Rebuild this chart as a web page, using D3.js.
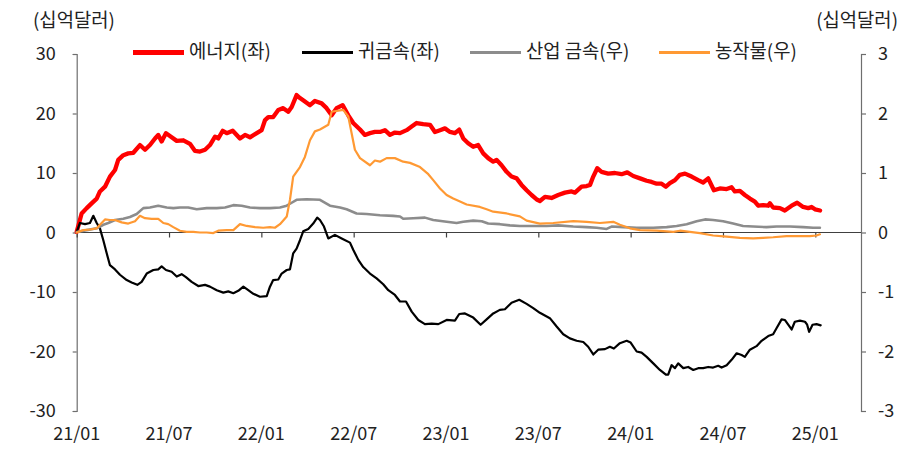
<!DOCTYPE html>
<html>
<head>
<meta charset="utf-8">
<script src="https://cdn.jsdelivr.net/npm/d3@7"></script>
<style>
  html, body { margin: 0; padding: 0; background: #fff; }
  svg text { font-family: "Noto Sans CJK KR", "Noto Sans", sans-serif; fill: #222; }
</style>
</head>
<body>
<svg id="chart" width="915" height="457"></svg>
<script>
// ---- Data (x = months since Jan 2021, value in billion USD) ----
const xTickMonths = [0, 6, 12, 18, 24, 30, 36, 42, 48];
const xTickLabels = ["21/01", "21/07", "22/01", "22/07", "23/01", "23/07", "24/01", "24/07", "25/01"];
const leftTicks = [-30, -20, -10, 0, 10, 20, 30];
const rightTicks = [-3, -2, -1, 0, 1, 2, 3];
const seriesNames = ["에너지(좌)", "귀금속(좌)", "산업 금속(우)", "농작물(우)"];

const energy = [[0,0.1],[0.32,3.2],[0.65,4.1],[0.97,4.9],[1.30,5.7],[1.51,6.9],[1.84,7.7],[2.16,9.4],[2.49,10.5],[2.70,12.2],
[3.03,13.0],[3.35,13.3],[3.68,13.4],[4.11,14.7],[4.44,13.9],[4.76,14.7],[5.09,15.8],[5.30,16.4],[5.52,15.3],[5.80,16.7],
[6.17,16.0],[6.50,15.4],[6.93,15.5],[7.36,14.9],[7.69,13.7],[8.01,13.6],[8.34,13.9],[8.66,14.7],[8.99,16.1],[9.20,15.8],
[9.49,17.1],[9.75,16.7],[10.14,17.1],[10.61,15.8],[10.94,16.4],[11.26,16.0],[11.70,16.7],[12.02,17.2],[12.24,18.9],[12.45,19.4],
[12.77,19.4],[13.10,20.6],[13.42,20.9],[13.75,20.3],[13.97,21.1],[14.29,23.1],[14.51,22.6],[14.83,22.0],[15.16,21.4],[15.48,22.1],
[15.92,21.7],[16.24,20.9],[16.57,19.7],[16.89,20.9],[17.28,21.4],[17.65,19.7],[17.97,18.4],[18.41,17.3],[18.73,16.4],[19.06,16.7],
[19.38,16.9],[19.71,16.9],[20.03,17.2],[20.36,16.4],[20.68,16.8],[21.01,16.7],[21.44,17.2],[21.77,17.8],[22.09,18.4],[22.52,18.2],
[22.96,18.1],[23.28,16.9],[23.61,17.2],[23.93,17.5],[24.26,16.9],[24.58,16.7],[24.86,17.3],[25.12,15.8],[25.44,15.0],[25.77,14.4],
[26.09,14.7],[26.42,13.3],[26.74,12.5],[27.07,11.9],[27.29,12.2],[27.61,11.3],[27.94,10.2],[28.26,9.4],[28.59,9.1],[28.91,8.0],
[29.24,7.1],[29.56,6.3],[29.93,5.5],[30.10,5.3],[30.43,6.0],[30.86,5.8],[31.29,6.3],[31.73,6.7],[32.16,6.9],[32.38,6.7],
[32.81,7.7],[33.14,7.8],[33.36,8.0],[33.57,9.4],[33.83,10.8],[34.11,10.2],[34.54,9.9],[34.98,10.0],[35.41,9.8],[35.78,10.1],
[36.17,9.5],[36.61,9.1],[37.04,8.7],[37.36,8.5],[37.69,8.2],[38.01,8.2],[38.29,7.7],[38.55,8.3],[38.88,8.8],[39.20,9.7],
[39.53,9.9],[39.96,9.4],[40.39,8.8],[40.71,8.4],[41.04,9.1],[41.41,7.1],[41.80,7.4],[42.24,7.3],[42.56,7.6],[42.77,6.9],
[43.10,7.0],[43.42,6.3],[43.75,5.7],[44.07,5.2],[44.29,4.5],[44.61,4.6],[44.94,4.5],[45.05,4.9],[45.26,4.2],[45.70,4.1],
[46.02,3.7],[46.46,4.5],[46.82,5.0],[47.21,4.3],[47.54,4.1],[47.76,4.3],[47.98,3.9],[48.31,3.7]];

const precious = [[0,0.1],[0.21,1.6],[0.54,1.4],[0.86,1.6],[1.08,2.8],[1.30,1.6],[1.51,0.7],[1.73,-1.3],[1.95,-3.5],[2.16,-5.5],
[2.49,-6.2],[2.81,-7.1],[3.25,-8.0],[3.57,-8.4],[3.94,-8.8],[4.22,-8.3],[4.55,-6.9],[4.98,-6.3],[5.30,-6.2],[5.52,-5.7],
[5.80,-6.3],[6.17,-6.6],[6.50,-7.4],[6.82,-7.0],[7.10,-7.5],[7.47,-8.3],[7.90,-9.0],[8.34,-8.8],[8.66,-9.1],[9.10,-9.7],
[9.53,-10.1],[9.85,-9.9],[10.18,-10.2],[10.50,-9.8],[10.83,-9.1],[11.15,-9.7],[11.48,-10.3],[11.91,-10.8],[12.35,-10.7],[12.56,-9.1],
[12.77,-8.0],[13.10,-7.9],[13.32,-6.9],[13.65,-6.3],[13.86,-6.2],[14.07,-3.5],[14.29,-2.7],[14.51,-1.3],[14.72,0.2],[15.05,0.6],
[15.37,1.5],[15.63,2.5],[15.81,2.1],[16.07,1.0],[16.35,-1.0],[16.78,-0.4],[17.22,-1.0],[17.76,-1.7],[17.97,-2.9],[18.30,-4.6],
[18.62,-5.8],[19.06,-6.9],[19.49,-7.7],[19.92,-8.7],[20.25,-9.7],[20.68,-10.5],[21.01,-11.6],[21.40,-11.6],[21.77,-13.3],[22.20,-14.7],
[22.63,-15.4],[23.07,-15.3],[23.50,-15.4],[24.04,-14.7],[24.58,-14.8],[24.86,-13.7],[25.23,-13.6],[25.77,-14.3],[26.25,-15.5],[26.64,-14.6],
[27.07,-13.6],[27.50,-13.0],[27.83,-12.9],[28.26,-11.8],[28.76,-11.3],[29.24,-12.0],[29.67,-12.7],[30.10,-13.5],[30.75,-14.4],[31.19,-15.8],
[31.62,-17.1],[32.05,-17.8],[32.49,-18.2],[32.92,-18.4],[33.24,-19.2],[33.57,-20.5],[33.89,-19.7],[34.33,-19.6],[34.65,-19.2],[34.91,-19.5],
[35.30,-18.6],[35.74,-18.2],[36.00,-18.5],[36.39,-20.0],[36.71,-20.2],[37.04,-20.9],[37.47,-22.0],[37.90,-23.1],[38.29,-23.9],[38.44,-23.9],
[38.66,-22.3],[38.88,-22.8],[39.09,-22.0],[39.42,-22.8],[39.74,-22.6],[40.07,-23.1],[40.39,-22.8],[40.71,-22.8],[41.04,-22.6],[41.36,-22.7],
[41.69,-22.4],[41.91,-22.7],[42.24,-22.3],[42.56,-21.4],[42.89,-20.3],[43.21,-20.6],[43.42,-20.9],[43.75,-19.7],[44.18,-19.1],[44.51,-18.2],
[44.94,-17.4],[45.26,-17.1],[45.48,-16.1],[45.81,-14.6],[46.02,-14.7],[46.24,-15.5],[46.46,-16.3],[46.67,-15.0],[47.00,-14.8],[47.33,-15.0],
[47.47,-15.5],[47.60,-16.7],[47.82,-15.5],[48.08,-15.4],[48.35,-15.6]];

const industrial = [[0,0.01],[0.65,0.04],[1.30,0.07],[1.73,0.13],[2.05,0.16],[2.49,0.21],[3.03,0.23],[3.46,0.26],[3.90,0.31],[4.33,0.41],
[4.76,0.42],[5.30,0.45],[5.85,0.42],[6.28,0.41],[6.71,0.42],[7.25,0.42],[7.80,0.39],[8.45,0.41],[9.10,0.41],[9.64,0.42],
[10.18,0.46],[10.72,0.45],[11.26,0.42],[11.91,0.41],[12.56,0.41],[13.21,0.42],[13.65,0.45],[13.97,0.50],[14.29,0.55],[14.94,0.56],
[15.81,0.55],[16.46,0.45],[17.11,0.42],[17.54,0.39],[18.19,0.32],[18.84,0.31],[19.71,0.29],[20.57,0.28],[21.01,0.27],[21.22,0.23],
[21.87,0.24],[22.63,0.25],[23.17,0.21],[24.04,0.18],[24.69,0.16],[25.12,0.18],[25.77,0.20],[26.32,0.19],[26.74,0.15],[27.50,0.14],
[28.15,0.12],[28.80,0.11],[29.67,0.11],[30.54,0.11],[31.29,0.12],[32.27,0.10],[33.14,0.09],[33.79,0.08],[34.44,0.06],[34.76,0.10],
[35.52,0.09],[36.39,0.08],[37.47,0.08],[38.34,0.09],[38.99,0.11],[39.64,0.14],[40.29,0.19],[40.83,0.22],[41.36,0.21],[42.01,0.19],
[42.66,0.15],[43.31,0.11],[43.96,0.10],[44.83,0.09],[45.48,0.10],[46.35,0.10],[47.21,0.09],[47.86,0.08],[48.30,0.08]];

const agriculture = [[0,0.00],[0.43,0.04],[0.86,0.05],[1.30,0.07],[1.51,0.13],[1.84,0.22],[2.16,0.21],[2.49,0.21],[2.92,0.17],[3.35,0.15],
[3.79,0.19],[4.11,0.28],[4.44,0.24],[4.87,0.23],[5.30,0.23],[5.63,0.16],[5.95,0.14],[6.28,0.09],[6.71,0.03],[7.15,0.01],
[7.58,0.01],[8.01,0.00],[8.45,0.00],[8.88,-0.01],[9.20,0.03],[9.75,0.04],[10.18,0.04],[10.61,0.14],[11.05,0.11],[11.59,0.09],
[12.12,0.08],[12.56,0.09],[12.88,0.08],[13.21,0.14],[13.65,0.27],[13.86,0.55],[14.07,0.94],[14.29,1.02],[14.51,1.10],[14.83,1.27],
[15.16,1.55],[15.48,1.70],[15.81,1.73],[16.35,1.81],[16.57,2.03],[17.32,2.06],[17.65,1.95],[18.08,1.39],[18.41,1.25],[19.06,1.13],
[19.38,1.21],[19.71,1.19],[20.14,1.25],[20.68,1.25],[21.22,1.19],[21.66,1.17],[22.31,1.10],[22.85,0.98],[23.17,0.88],[23.61,0.74],
[24.04,0.63],[24.47,0.57],[24.91,0.52],[25.34,0.47],[26.20,0.43],[26.64,0.39],[27.07,0.35],[27.94,0.32],[28.80,0.27],[29.24,0.20],
[30.10,0.15],[30.97,0.16],[32.27,0.19],[33.14,0.18],[34.00,0.16],[34.87,0.18],[35.30,0.13],[35.95,0.07],[36.61,0.04],[37.69,0.03],
[38.77,0.01],[39.20,0.03],[39.85,0.01],[40.50,-0.01],[41.36,-0.05],[42.24,-0.07],[43.10,-0.09],[43.96,-0.10],[44.61,-0.09],[45.26,-0.08],
[46.13,-0.06],[47.00,-0.06],[47.65,-0.06],[48.08,-0.05],[48.30,-0.03]];

// ---- Layout ----
const svg = d3.select("#chart");
const plot = { left: 76.7, right: 861, top: 54, bottom: 411 };
const x = d3.scaleLinear().domain([0, 48]).range([76.7, 815.3]);
const yL = d3.scaleLinear().domain([-30, 30]).range([plot.bottom, plot.top]);
const yR = d3.scaleLinear().domain([-3, 3]).range([plot.bottom, plot.top]);

const FS = 18;      // numbers
const FSK = 18.8;   // Korean text
const axisColor = "#6e6e6e";

// Left axis
const gL = svg.append("g").attr("transform", `translate(${plot.left},0)`)
  .call(d3.axisLeft(yL).tickValues(leftTicks).tickSize(4).tickSizeOuter(4).tickPadding(17).tickFormat(d3.format("d")));
// Right axis
const gR = svg.append("g").attr("transform", `translate(${plot.right},0)`)
  .call(d3.axisRight(yR).tickValues(rightTicks).tickSize(5).tickSizeOuter(5).tickPadding(12).tickFormat(d3.format("d")));
[gL, gR].forEach(g => {
  g.selectAll("path.domain").attr("stroke", axisColor).attr("stroke-width", 1.2);
  g.selectAll(".tick line").attr("stroke", axisColor).attr("stroke-width", 1.2);
  g.selectAll(".tick text").style("font-size", FS + "px").attr("fill", "#222");
});
gL.selectAll(".tick text").text(d => d < 0 ? "-" + Math.abs(d) : d);
gR.selectAll(".tick text").text(d => d < 0 ? "-" + Math.abs(d) : d);

// Zero baseline
svg.append("line")
  .attr("x1", plot.left).attr("x2", plot.right)
  .attr("y1", yL(0)).attr("y2", yL(0))
  .attr("stroke", "#404040").attr("stroke-width", 1.2);

// X ticks on zero line
const xAxis = d3.axisBottom(x).tickValues(xTickMonths).tickSize(5).tickSizeOuter(0).tickFormat("");
const gX = svg.append("g").attr("transform", `translate(0,${yL(0)})`).call(xAxis);
gX.select("path.domain").remove();
gX.selectAll(".tick line").attr("stroke", "#404040").attr("stroke-width", 1.2);

// X labels at bottom
svg.append("g").selectAll("text").data(xTickMonths).join("text")
  .attr("x", d => x(d)).attr("y", 435)
  .attr("text-anchor", "middle").attr("dominant-baseline", "middle")
  .style("font-size", FS + "px")
  .text((d, i) => xTickLabels[i]);

// Unit labels
svg.append("text").attr("x", 33).attr("y", 22).attr("dominant-baseline", "middle")
  .style("font-size", FSK + "px").text("(십억달러)");
svg.append("text").attr("x", 898).attr("y", 22).attr("text-anchor", "end").attr("dominant-baseline", "middle")
  .style("font-size", FSK + "px").text("(십억달러)");

// Lines
const lineL = d3.line().x(d => x(d[0])).y(d => yL(d[1]));
const lineR = d3.line().x(d => x(d[0])).y(d => yR(d[1]));
const series = [
  { name: seriesNames[0], data: energy, gen: lineL, color: "#ff0000", w: 4.3 },
  { name: seriesNames[1], data: precious, gen: lineL, color: "#000000", w: 2.2 },
  { name: seriesNames[2], data: industrial, gen: lineR, color: "#8c8c8c", w: 2.6 },
  { name: seriesNames[3], data: agriculture, gen: lineR, color: "#ff9933", w: 2.2 }
];
svg.append("g").selectAll("path").data(series).join("path")
  .attr("d", s => s.gen(s.data))
  .attr("fill", "none")
  .attr("stroke", s => s.color)
  .attr("stroke-width", s => s.w)
  .attr("stroke-linejoin", "round")
  .attr("stroke-linecap", "round");

// Legend
const legendX = [133, 302, 470, 659];
const legendY = 52.5;
const lg = svg.append("g").selectAll("g").data(series).join("g")
  .attr("transform", (d, i) => `translate(${legendX[i]},${legendY})`);
lg.append("line").attr("x1", 0).attr("x2", 51).attr("y1", 0).attr("y2", 0)
  .attr("stroke", d => d.color).attr("stroke-width", d => d.w + 0.6);
lg.append("text").attr("x", 56).attr("y", 0).attr("dominant-baseline", "middle")
  .style("font-size", FSK + "px").text(d => d.name);
</script>
</body>
</html>
